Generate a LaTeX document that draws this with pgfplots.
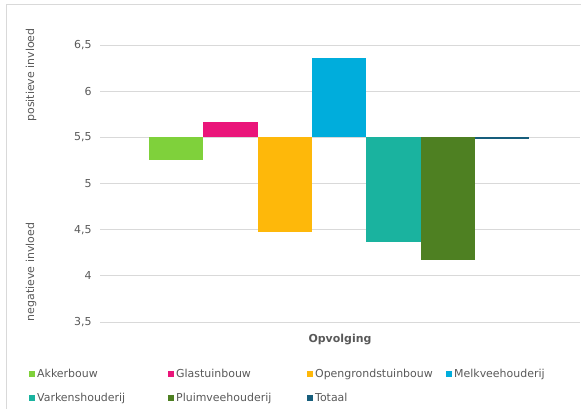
\documentclass[border=0pt]{standalone}
\usepackage{pgfplots}
\pgfplotsset{compat=1.18}
\usepackage{fontspec}
\setmainfont{DejaVu Sans}

\definecolor{akker}{HTML}{7FD13B}
\definecolor{glas}{HTML}{EA157A}
\definecolor{opengr}{HTML}{FEB80A}
\definecolor{melk}{HTML}{00ADDC}
\definecolor{varken}{HTML}{1AB39F}
\definecolor{pluim}{HTML}{4E8022}
\definecolor{totaal}{HTML}{175E7C}
\definecolor{gridc}{HTML}{D9D9D9}
\definecolor{txt}{HTML}{595959}

\newcommand{\lab}[1]{\makebox[129bp][l]{#1}}

\begin{document}
\begin{tikzpicture}
\useasboundingbox (0,0) rectangle (581bp,-409bp);
% outer frame of the chart area
\draw[gridc, line width=0.9bp] (6bp,-409bp) -- (6bp,-4bp) -- (581bp,-4bp);

\begin{axis}[
  at={(100bp,-45bp)}, anchor=north west,
  scale only axis,
  width=480bp, height=277bp,
  ymin=3.5, ymax=6.5,
  xmin=-1.4, xmax=7.43,
  y coord trafo/.code={\pgfmathparse{#1-5.5}},
  y coord inv trafo/.code={\pgfmathparse{#1+5.5}},
  ytick={3.5,4,4.5,5,5.5,6,6.5},
  yticklabels={{3,5},{4},{4,5},{5},{5,5},{6},{6,5}},
  xtick=\empty,
  ymajorgrids,
  grid style={gridc, line width=0.9bp},
  axis line style={draw=none},
  major tick length=0pt,
  yticklabel style={font=\fontsize{11}{13}\selectfont, text=txt, xshift=-5bp},
  xlabel={\textbf{Opvolging}},
  xlabel style={at={(axis description cs:0.5,0)}, anchor=north, yshift=-9bp,
    font=\fontsize{11}{13}\selectfont, text=txt},
  ybar, bar width=1, bar shift=0pt,
  clip=false,
  legend columns=4,
  legend cell align=left,
  legend style={at={(axis description cs:-0.148,-0.17)}, anchor=north west,
    draw=none, fill=none, inner sep=0pt, row sep=14bp,
    font=\fontsize{11}{13}\selectfont, text=txt,
    nodes={inner xsep=2bp, inner ysep=0pt}},
  legend image code/.code={\fill[#1] (0bp,-3bp) rectangle (6bp,3bp);},
]
\addplot[fill=akker, draw=none] coordinates {(0,5.25)};
\addlegendentry{\lab{Akkerbouw}}
\addplot[fill=glas, draw=none] coordinates {(1,5.67)};
\addlegendentry{\lab{Glastuinbouw}}
\addplot[fill=opengr, draw=none] coordinates {(2,4.47)};
\addlegendentry{\lab{Opengrondstuinbouw}}
\addplot[fill=melk, draw=none] coordinates {(3,6.355)};
\addlegendentry{\lab{Melkveehouderij}}
\addplot[fill=varken, draw=none] coordinates {(4,4.37)};
\addlegendentry{\lab{Varkenshouderij}}
\addplot[fill=pluim, draw=none] coordinates {(5,4.17)};
\addlegendentry{\lab{Pluimveehouderij}}
\addplot[fill=totaal, draw=none] coordinates {(6,5.484)};
\addlegendentry{\lab{Totaal}}
\end{axis}

\node[rotate=90, text=txt, font=\fontsize{11}{13}\selectfont] at (31bp,-75bp) {positieve invloed};
\node[rotate=90, text=txt, font=\fontsize{11}{13}\selectfont] at (31bp,-272bp) {negatieve invloed};
\end{tikzpicture}
\end{document}
